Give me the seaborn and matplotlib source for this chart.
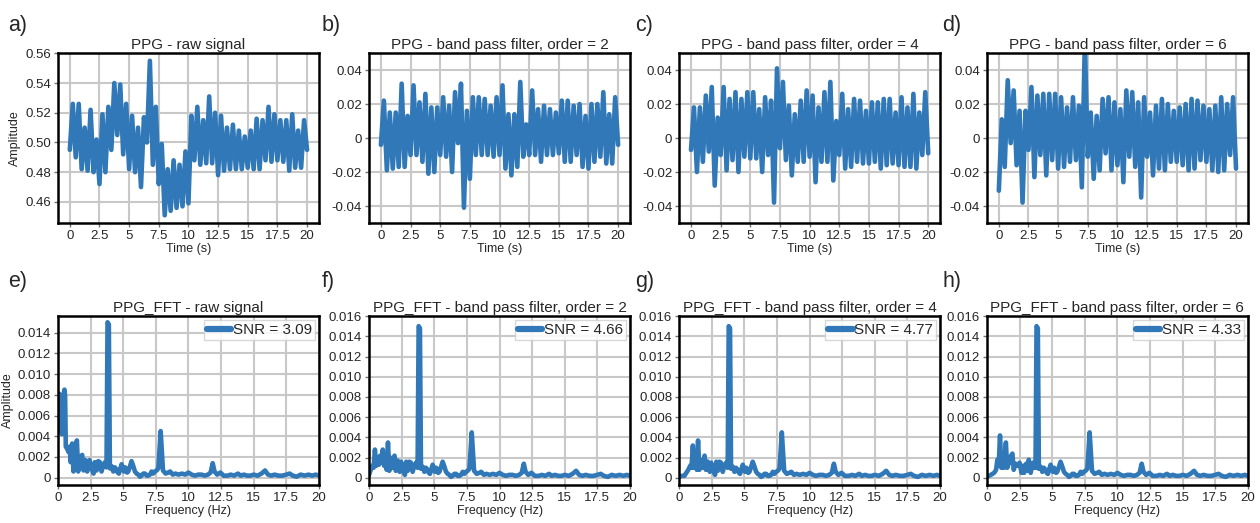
import numpy as np
import matplotlib
matplotlib.use("Agg")
import matplotlib.pyplot as plt
from matplotlib.ticker import MultipleLocator, FuncFormatter
import seaborn as sns

# ==============================
# data
# ==============================
DT = 0.25  # one value every quarter second: peak / trough / peak ...

# a) raw signal
raw_start, raw_end = 0.495, 0.495
raw_peaks = [0.526, 0.526, 0.510, 0.522, 0.502, 0.519, 0.524, 0.540, 0.539, 0.526,
             0.518, 0.510, 0.517, 0.555, 0.524, 0.499, 0.482, 0.488, 0.485, 0.494,
             0.518, 0.524, 0.515, 0.531, 0.520, 0.518, 0.510, 0.512, 0.508, 0.504,
             0.508, 0.516, 0.515, 0.524, 0.519, 0.515, 0.515, 0.519, 0.508, 0.515]
raw_troughs = [0.490, 0.482, 0.481, 0.480, 0.472, 0.480, 0.495, 0.505, 0.492, 0.482,
               0.480, 0.470, 0.500, 0.485, 0.472, 0.451, 0.454, 0.456, 0.457, 0.459,
               0.488, 0.485, 0.486, 0.486, 0.478, 0.481, 0.482, 0.482, 0.482, 0.483,
               0.482, 0.482, 0.488, 0.487, 0.488, 0.487, 0.481, 0.483, 0.483]

# b) band pass, order 2
bp2_start, bp2_end = -0.004, -0.004
bp2_peaks = [0.022, 0.015, 0.015, 0.032, 0.013, 0.031, 0.021, 0.026, 0.018, 0.018,
             0.024, 0.019, 0.027, 0.032, 0.016, 0.024, 0.024, 0.023, 0.019, 0.024,
             0.031, 0.014, 0.014, 0.033, 0.008, 0.028, 0.017, 0.019, 0.017, 0.015,
             0.022, 0.022, 0.019, 0.020, 0.013, 0.020, 0.020, 0.027, 0.014, 0.024]
bp2_troughs = [-0.019, -0.018, -0.017, -0.017, -0.010, -0.010, -0.014, -0.021, -0.020, -0.010,
               -0.011, -0.020, -0.003, -0.041, -0.024, -0.010, -0.010, -0.010, -0.011, -0.010,
               -0.018, -0.022, -0.017, -0.011, -0.010, -0.010, -0.014, -0.010, -0.010, -0.009,
               -0.014, -0.014, -0.010, -0.017, -0.018, -0.014, -0.011, -0.015, -0.015]

# c) band pass, order 4
bp4_start, bp4_end = -0.007, -0.009
bp4_peaks = [0.018, 0.018, 0.025, 0.030, 0.012, 0.030, 0.023, 0.027, 0.023, 0.027,
             0.027, 0.017, 0.024, 0.022, 0.041, 0.033, 0.019, 0.014, 0.022, 0.028,
             0.025, 0.018, 0.027, 0.033, 0.010, 0.026, 0.017, 0.023, 0.022, 0.016,
             0.021, 0.021, 0.023, 0.023, 0.015, 0.024, 0.018, 0.026, 0.015, 0.027]
bp4_troughs = [-0.020, -0.014, -0.008, -0.028, -0.010, -0.019, -0.013, -0.020, -0.011, -0.012,
               -0.012, -0.020, -0.010, -0.038, -0.006, -0.013, -0.022, -0.014, -0.014, -0.011,
               -0.026, -0.014, -0.014, -0.025, -0.010, -0.018, -0.017, -0.014, -0.015, -0.015,
               -0.014, -0.018, -0.016, -0.015, -0.016, -0.017, -0.017, -0.018, -0.010]

# d) band pass, order 6
bp6_start, bp6_end = -0.031, -0.018
bp6_peaks = [0.011, 0.034, 0.028, 0.016, 0.016, 0.030, 0.025, 0.026, 0.026, 0.026,
             0.024, 0.018, 0.024, 0.019, 0.056, 0.015, 0.013, 0.023, 0.024, 0.021,
             0.017, 0.028, 0.027, 0.021, 0.024, 0.015, 0.019, 0.023, 0.020, 0.016,
             0.018, 0.020, 0.023, 0.022, 0.019, 0.017, 0.019, 0.024, 0.020, 0.024]
bp6_troughs = [-0.017, -0.003, -0.016, -0.038, -0.007, -0.023, -0.010, -0.022, -0.013, -0.018,
               -0.017, -0.014, -0.013, -0.029, -0.011, -0.024, -0.019, -0.009, -0.019, -0.016,
               -0.026, -0.011, -0.017, -0.035, -0.011, -0.022, -0.018, -0.019, -0.014, -0.014,
               -0.016, -0.019, -0.018, -0.013, -0.014, -0.019, -0.020, -0.019, -0.010]

# FFT, low-frequency part differs per panel
fft_raw_f = [0.00, 0.05, 0.10, 0.15, 0.20, 0.25, 0.30, 0.35, 0.40, 0.45, 0.50, 0.55,
             0.60, 0.70, 0.80, 0.90, 0.97, 1.09, 1.19, 1.30, 1.45, 1.55, 1.70, 1.86,
             1.96, 2.11, 2.24, 2.42, 2.57, 2.73, 2.83, 2.96, 3.09, 3.21, 3.34, 3.47, 3.60]
fft_raw_a = [0.0080, 0.0072, 0.0081, 0.0060, 0.0075, 0.0048, 0.0042, 0.0060, 0.0045, 0.0082, 0.0085, 0.0078,
             0.0030, 0.0028, 0.0025, 0.0030, 0.0015, 0.0033, 0.0006, 0.0023, 0.0036, 0.0006, 0.0020, 0.0022,
             0.0007, 0.0017, 0.0006, 0.0017, 0.0009, 0.0004, 0.0015, 0.0007, 0.0016, 0.0015, 0.0006, 0.0012, 0.0015]

fft_bp2_f = [0.00, 0.13, 0.25, 0.35, 0.45, 0.55, 0.65, 0.75, 0.85, 0.95, 1.05, 1.15,
             1.25, 1.35, 1.45, 1.55, 1.65, 1.80, 1.95, 2.05, 2.20, 2.35, 2.45, 2.60,
             2.75, 2.85, 2.96, 3.09, 3.21, 3.34, 3.47, 3.60]
fft_bp2_a = [0.0003, 0.0008, 0.0012, 0.0010, 0.0028, 0.0012, 0.0020, 0.0013, 0.0022, 0.0015, 0.0028, 0.0012,
             0.0022, 0.0008, 0.0035, 0.0007, 0.0020, 0.0010, 0.0022, 0.0007, 0.0017, 0.0006, 0.0016, 0.0008,
             0.0003, 0.0016, 0.0007, 0.0016, 0.0015, 0.0006, 0.0012, 0.0015]

fft_bp4_f = [0.00, 0.20, 0.40, 0.55, 0.70, 0.85, 0.95, 1.05, 1.15, 1.25, 1.35, 1.45,
             1.55, 1.65, 1.80, 1.95, 2.05, 2.20, 2.35, 2.45, 2.60, 2.75, 2.85, 2.96,
             3.09, 3.21, 3.34, 3.47, 3.60]
fft_bp4_a = [0.0001, 0.0002, 0.0002, 0.0005, 0.0008, 0.0012, 0.0010, 0.0032, 0.0010, 0.0020, 0.0008, 0.0037,
             0.0008, 0.0018, 0.0010, 0.0022, 0.0008, 0.0016, 0.0006, 0.0015, 0.0009, 0.0003, 0.0016, 0.0007,
             0.0016, 0.0015, 0.0006, 0.0012, 0.0015]

fft_bp6_f = [0.00, 0.30, 0.55, 0.70, 0.80, 0.90, 1.00, 1.10, 1.20, 1.30, 1.45, 1.55,
             1.70, 1.85, 1.95, 2.05, 2.20, 2.35, 2.50, 2.65, 2.75, 2.85, 3.00, 3.10,
             3.20, 3.35, 3.50, 3.60]
fft_bp6_a = [0.0001, 0.0003, 0.0005, 0.0008, 0.0018, 0.0012, 0.0042, 0.0010, 0.0022, 0.0010, 0.0035, 0.0010,
             0.0015, 0.0022, 0.0024, 0.0008, 0.0014, 0.0012, 0.0015, 0.0005, 0.0012, 0.0005, 0.0014, 0.0007,
             0.0018, 0.0005, 0.0015, 0.0010]

# FFT above ~3.7 Hz looks the same in all four panels
fft_high_f = [3.72, 3.80, 3.90, 3.98, 4.12, 4.24, 4.36, 4.49, 4.58, 4.67, 4.78, 4.88,
              4.97, 5.06, 5.14, 5.21, 5.30, 5.39, 5.52, 5.64, 5.78, 5.90, 6.03, 6.16,
              6.28, 6.41, 6.54, 6.67, 6.80, 6.92, 7.05, 7.18, 7.30, 7.43, 7.56, 7.69,
              7.87, 8.05, 8.25, 8.45, 8.60, 8.80, 9.00, 9.25, 9.50, 9.75, 10.0, 10.25,
              10.5, 10.75, 11.0, 11.25, 11.5, 11.7, 11.86, 12.0, 12.2, 12.45, 12.7, 13.0,
              13.25, 13.5, 13.8, 14.0, 14.25, 14.5, 14.75, 15.0, 15.3, 15.6, 15.87, 16.1,
              16.35, 16.6, 16.9, 17.2, 17.5, 17.75, 18.0, 18.3, 18.6, 18.9, 19.2, 19.5,
              19.75, 20.0]
fft_high_a = [0.0010, 0.0150, 0.0148, 0.0009, 0.0011, 0.0006, 0.0010, 0.0008, 0.0005, 0.0004, 0.0009, 0.0013,
              0.0008, 0.0006, 0.0010, 0.0009, 0.0005, 0.0006, 0.0011, 0.0016, 0.0011, 0.0006, 0.0004, 0.0003,
              0.0001, 0.0002, 0.0004, 0.0004, 0.0002, 0.0002, 0.0003, 0.0006, 0.0004, 0.0006, 0.0007, 0.0009,
              0.0045, 0.0007, 0.0004, 0.0005, 0.0006, 0.0003, 0.0004, 0.0003, 0.0004, 0.0003, 0.0005, 0.0003,
              0.0002, 0.0003, 0.0003, 0.0002, 0.0003, 0.0005, 0.0014, 0.0006, 0.0003, 0.0005, 0.0002, 0.0002,
              0.0003, 0.0002, 0.0004, 0.0002, 0.0003, 0.0002, 0.0002, 0.0003, 0.0002, 0.0004, 0.0007, 0.0003,
              0.0002, 0.0003, 0.0002, 0.0002, 0.0003, 0.0004, 0.0002, 0.0001, 0.0003, 0.0002, 0.0003, 0.0002,
              0.0003, 0.0002]

snr_values = [3.09, 4.66, 4.77, 4.33]
time_titles = ["PPG - raw signal", "PPG - band pass filter, order = 2",
               "PPG - band pass filter, order = 4", "PPG - band pass filter, order = 6"]
fft_titles = ["PPG_FFT - raw signal", "PPG_FFT - band pass filter, order = 2",
              "PPG_FFT - band pass filter, order = 4", "PPG_FFT - band pass filter, order = 6"]
panel_letters = ["a)", "b)", "c)", "d)", "e)", "f)", "g)", "h)"]

# ==============================
# style
# ==============================
LINE_COLOR = "#3078b8"
LW = 3.3
sns.set_theme(style="whitegrid", rc={
    "grid.color": "#c8c8c8",
    "grid.linewidth": 1.5,
    "axes.edgecolor": "black",
    "axes.linewidth": 1.8,
})
plt.rcParams["font.family"] = ["Liberation Sans", "DejaVu Sans"]


def zigzag(start, peaks, troughs, end):
    vals = [start]
    for i, p in enumerate(peaks):
        vals.append(p)
        if i < len(troughs):
            vals.append(troughs[i])
    vals.append(end)
    return np.array(vals)


def fmt_time(v, _):
    return "0" if abs(v) < 1e-12 else f"{v:.2f}"


def fmt_fft(v, _):
    return "0" if abs(v) < 1e-12 else f"{v:.3f}"


fig = plt.figure(figsize=(12.6, 5.23), dpi=100)
lefts = [0.046, 0.2929, 0.539, 0.7833]
W = 0.2071

time_series = [
    zigzag(raw_start, raw_peaks, raw_troughs, raw_end),
    zigzag(bp2_start, bp2_peaks, bp2_troughs, bp2_end),
    zigzag(bp4_start, bp4_peaks, bp4_troughs, bp4_end),
    zigzag(bp6_start, bp6_peaks, bp6_troughs, bp6_end),
]
fft_series = [
    (fft_raw_f + fft_high_f, fft_raw_a + fft_high_a),
    (fft_bp2_f + fft_high_f, fft_bp2_a + fft_high_a),
    (fft_bp4_f + fft_high_f, fft_bp4_a + fft_high_a),
    (fft_bp6_f + fft_high_f, fft_bp6_a + fft_high_a),
]


def style_axes(ax):
    ax.tick_params(axis="both", which="major", length=3, width=1, color="0.45",
                   pad=2, labelsize=9.5, bottom=True, left=True)
    for s in ax.spines.values():
        s.set_color("black")
        s.set_linewidth(1.8)
    ax.set_axisbelow(True)


for i in range(4):
    # time domain
    ax = fig.add_axes([lefts[i], 0.5736, W, 0.325])
    vals = time_series[i]
    t = np.arange(len(vals)) * DT
    sns.lineplot(x=t, y=vals, ax=ax, color=LINE_COLOR, linewidth=LW,
                 estimator=None, sort=False)
    ax.xaxis.set_major_locator(MultipleLocator(2.5))
    ax.xaxis.set_major_formatter(FuncFormatter(lambda v, _: f"{v:g}"))
    if i > 0:
        ax.set_ylim(-0.05, 0.05)
    ax.yaxis.set_major_locator(MultipleLocator(0.02))
    ax.yaxis.set_major_formatter(FuncFormatter(fmt_time))
    ax.set_title(time_titles[i], fontsize=11, pad=3)
    ax.set_xlabel("Time (s)", fontsize=9, labelpad=1)
    ax.set_ylabel("Amplitude" if i == 0 else "", fontsize=9, labelpad=3)
    style_axes(ax)

    # frequency domain
    ax = fig.add_axes([lefts[i], 0.0727, W, 0.323])
    f, a = fft_series[i]
    sns.lineplot(x=f, y=a, ax=ax, color=LINE_COLOR, linewidth=LW,
                 estimator=None, sort=False, label=f"SNR = {snr_values[i]:.2f}")
    ax.set_xlim(0, 20)
    ax.set_ylim(-0.0007, 0.0156 if i == 0 else 0.016)
    ax.xaxis.set_major_locator(MultipleLocator(2.5))
    ax.xaxis.set_major_formatter(FuncFormatter(lambda v, _: f"{v:g}"))
    ax.yaxis.set_major_locator(MultipleLocator(0.002))
    ax.yaxis.set_major_formatter(FuncFormatter(fmt_fft))
    ax.set_title(fft_titles[i], fontsize=11, pad=3)
    ax.set_xlabel("Frequency (Hz)", fontsize=9, labelpad=1)
    ax.set_ylabel("Amplitude" if i == 0 else "", fontsize=9, labelpad=3)
    leg = ax.legend(loc="upper right", fontsize=11, handlelength=1.6, handletextpad=0.1,
                    borderpad=0.2, borderaxespad=0.25, fancybox=False, framealpha=0.85)
    leg.get_frame().set_edgecolor("#d0d0d0")
    for h in leg.get_lines():
        h.set_linewidth(4.5)
    style_axes(ax)

# panel letters
top_x = [0.0063, 0.2556, 0.504, 0.748]
for i in range(4):
    fig.text(top_x[i], 0.952, panel_letters[i], fontsize=15.5, va="center", ha="left")
    fig.text(top_x[i], 0.462, panel_letters[i + 4], fontsize=15.5, va="center", ha="left")

fig.savefig("out.png", dpi=100)
